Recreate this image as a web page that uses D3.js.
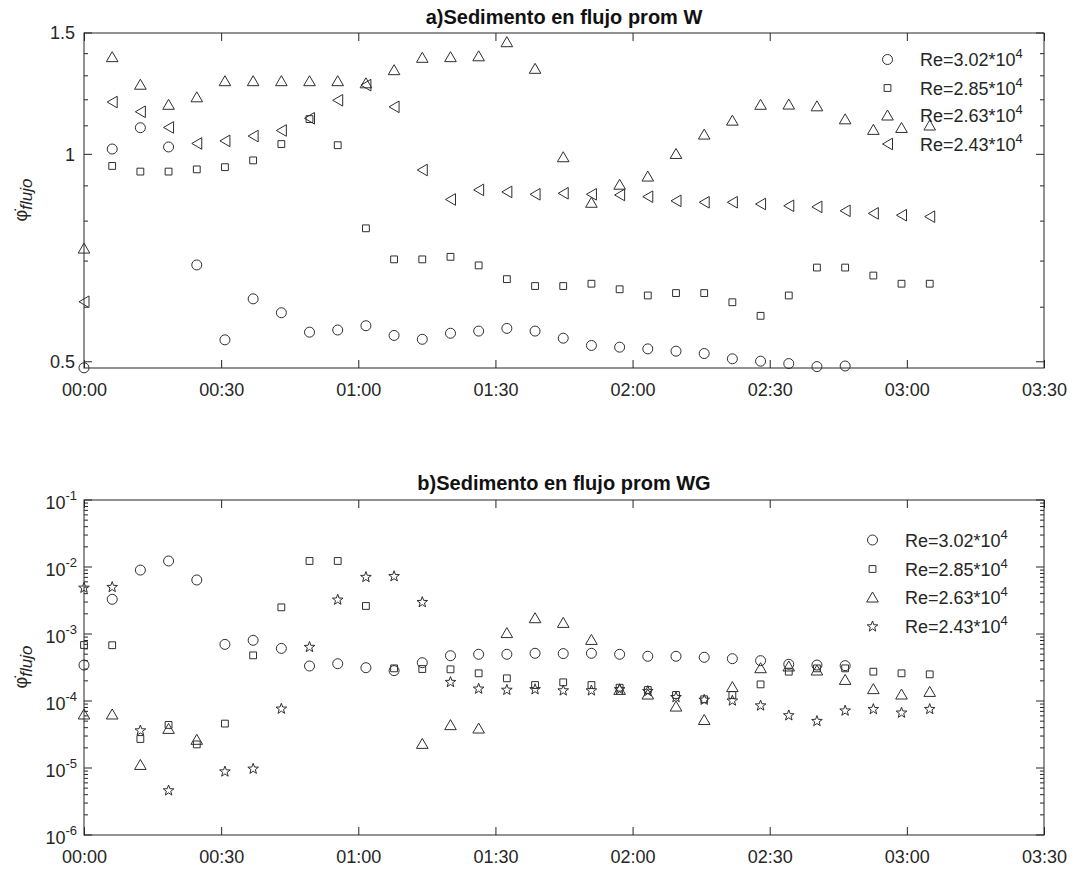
<!DOCTYPE html>
<html>
<head>
<meta charset="utf-8">
<script src="https://cdn.jsdelivr.net/npm/d3@7"></script>
<style>
  html, body { margin: 0; padding: 0; background: #fff; }
  svg { display: block; font-family: "Liberation Sans", Arial, Helvetica, sans-serif; }
</style>
</head>
<body>
<script>
// Sample times (minutes since start)
const sampleMin = [0, 6.17, 12.33, 18.5, 24.67, 30.83, 37, 43.17, 49.33, 55.5, 61.67, 67.83,
  74, 80.17, 86.33, 92.5, 98.67, 104.83, 111, 117.17, 123.33, 129.5, 135.67, 141.83,
  148, 154.17, 160.33, 166.5, 172.67, 178.83, 185];

// Time axis ticks
const xTickMin = [0, 30, 60, 90, 120, 150, 180, 210];
const xTickLabels = ["00:00", "00:30", "01:00", "01:30", "02:00", "02:30", "03:00", "03:30"];

// Series names
const seriesNamesW = ["3.02", "2.85", "2.63", "2.43"];
const seriesNamesWG = ["3.02", "2.85", "2.63", "2.43"];

// Panel a) - average flow sediment, W
const w302 = [0.49, 1.018, 1.093, 1.025, 0.691, 0.538, 0.617, 0.589, 0.552, 0.556, 0.564, 0.546,
  0.539, 0.550, 0.554, 0.559, 0.554, 0.541, 0.528, 0.525, 0.522, 0.518, 0.514, 0.505,
  0.501, 0.497, 0.492, 0.493, null, null, null];
const w285 = [null, 0.962, 0.944, 0.944, 0.951, 0.958, 0.980, 1.035, 1.125, 1.031, 0.781, 0.704,
  0.704, 0.710, 0.690, 0.659, 0.644, 0.644, 0.649, 0.637, 0.624, 0.629, 0.629, 0.610,
  0.583, 0.624, 0.685, 0.685, 0.667, 0.649, 0.649];
const w263 = [0.731, 1.386, 1.264, 1.182, 1.212, 1.279, 1.279, 1.279, 1.279, 1.279, 1.27, 1.327,
  1.383, 1.386, 1.390, 1.457, 1.333, 0.992, 0.852, 0.905, 0.930, 1.003, 1.070, 1.121,
  1.182, 1.183, 1.176, 1.126, 1.087, 1.094, 1.103];
const w243 = [0.611, 1.191, 1.153, 1.094, 1.037, 1.046, 1.063, 1.083, 1.128, 1.198, 1.26, 1.172,
  0.949, 0.860, 0.888, 0.882, 0.875, 0.878, 0.875, 0.873, 0.868, 0.856, 0.852, 0.852,
  0.847, 0.842, 0.839, 0.828, 0.821, 0.816, 0.812];

// Panel b) - average flow sediment, WG
const wg302 = [3.44e-4, 3.30e-3, 9.0e-3, 1.23e-2, 6.4e-3, 7.0e-4, 8.05e-4, 6.1e-4, 3.33e-4, 3.6e-4,
  3.14e-4, 2.84e-4, 3.73e-4, 4.74e-4, 4.98e-4, 4.98e-4, 5.15e-4, 5.1e-4, 5.15e-4, 4.98e-4,
  4.65e-4, 4.65e-4, 4.49e-4, 4.28e-4, 4.0e-4, 3.53e-4, 3.44e-4, 3.37e-4, null, null, null];
const wg285 = [6.85e-4, 6.8e-4, 2.71e-5, 4.39e-5, 2.25e-5, 4.6e-5, 4.8e-4, 2.5e-3, 1.23e-2, 1.23e-2,
  2.62e-3, 3.07e-4, 3.0e-4, 2.97e-4, 2.59e-4, 2.18e-4, 1.73e-4, 1.9e-4, 1.73e-4, 1.58e-4,
  1.46e-4, 1.23e-4, 1.06e-4, 1.23e-4, 1.77e-4, 2.74e-4, 3.07e-4, 3.07e-4, 2.74e-4, 2.59e-4, 2.5e-4];
const wg263 = [6.4e-5, 6.4e-5, 1.13e-5, 3.9e-5, 2.68e-5, null, null, null, null, null,
  null, null, 2.33e-5, 4.44e-5, 3.95e-5, 1.05e-3, 1.75e-3, 1.49e-3, 8.3e-4, 1.49e-4,
  1.27e-4, 8.4e-5, 5.3e-5, 1.64e-4, 3.14e-4, 3.33e-4, 2.9e-4, 2.1e-4, 1.53e-4, 1.27e-4, 1.39e-4];
const wg243 = [4.97e-3, 5.1e-3, 3.69e-5, 4.7e-6, null, 9.0e-6, 9.9e-6, 7.8e-5, 6.5e-4, 3.3e-3,
  7.2e-3, 7.4e-3, 3.04e-3, 1.95e-4, 1.55e-4, 1.49e-4, 1.52e-4, 1.46e-4, 1.46e-4, 1.52e-4,
  1.43e-4, 1.16e-4, 1.06e-4, 1.03e-4, 8.7e-5, 6.2e-5, 5.1e-5, 7.3e-5, 7.7e-5, 6.8e-5, 7.7e-5];

// y ticks
const yTicksW = [0.5, 1, 1.5];
const yTicksWLabels = ["0.5", "1", "1.5"];
const yMinorW = [0.6, 0.7, 0.8, 0.9, 1.1, 1.2, 1.3, 1.4];
const yExpWG = [-6, -5, -4, -3, -2, -1];

const ink = "#262626";
const markInk = "#2e2e2e";
const W = 1075, H = 871;

const svg = d3.select("body").append("svg").attr("width", W).attr("height", H);

// Marker outlines centred on (0,0)
function markerPath(kind) {
  const p = d3.path();
  if (kind === "circle") {
    p.arc(0, 0, 5, 0, 2 * Math.PI); p.closePath();
  } else if (kind === "square") {
    p.rect(-3.4, -3.4, 6.8, 6.8);
  } else if (kind === "up") {
    p.moveTo(0, -5); p.lineTo(5.8, 5); p.lineTo(-5.8, 5); p.closePath();
  } else if (kind === "left") {
    p.moveTo(-5, 0); p.lineTo(5, -5.8); p.lineTo(5, 5.8); p.closePath();
  } else if (kind === "star") {
    const R = 5.6, r = 2.3;
    for (let k = 0; k < 10; k++) {
      const a = -Math.PI / 2 + k * Math.PI / 5;
      const rr = k % 2 === 0 ? R : r;
      const px = rr * Math.cos(a), py = rr * Math.sin(a) + 0.6;
      if (k === 0) p.moveTo(px, py); else p.lineTo(px, py);
    }
    p.closePath();
  }
  return p.toString();
}

const x = d3.scaleLinear().domain([0, 210]).range([84, 1044]);

function drawFrame(g, y, top, bottom) {
  const left = x.range()[0], right = x.range()[1];
  // x axis ticks (bottom labelled, top unlabeled)
  const xb = g.append("g").attr("transform", `translate(0,${bottom})`)
    .call(d3.axisBottom(x).tickValues(xTickMin).tickFormat((d, i) => xTickLabels[i])
      .tickSize(-8).tickSizeOuter(0).tickPadding(15));
  const xt = g.append("g").attr("transform", `translate(0,${top})`)
    .call(d3.axisTop(x).tickValues(xTickMin).tickFormat("").tickSize(-8).tickSizeOuter(0));
  [xb, xt].forEach(a => {
    a.select(".domain").remove();
    a.selectAll("line").attr("stroke", ink);
    a.selectAll("text").attr("fill", ink).attr("font-size", 18)
      .attr("font-family", "Liberation Sans, Arial, sans-serif");
  });
  // bounding box
  g.append("rect").attr("x", left).attr("y", top)
    .attr("width", right - left).attr("height", bottom - top)
    .attr("fill", "none").attr("stroke", ink).attr("stroke-width", 1);
}

function yTicksDraw(g, y, vals, len) {
  const left = x.range()[0], right = x.range()[1];
  g.selectAll(null).data(vals).enter().append("line")
    .attr("x1", left).attr("x2", left + len)
    .attr("y1", d => y(d)).attr("y2", d => y(d)).attr("stroke", ink);
  g.selectAll(null).data(vals).enter().append("line")
    .attr("x1", right).attr("x2", right - len)
    .attr("y1", d => y(d)).attr("y2", d => y(d)).attr("stroke", ink);
}

function drawSeries(g, y, values, kind) {
  const pts = values.map((v, i) => ({ t: sampleMin[i], v })).filter(d => d.v != null);
  g.selectAll(null).data(pts).enter().append("path")
    .attr("d", markerPath(kind))
    .attr("transform", d => `translate(${x(d.t)},${y(d.v)})`)
    .attr("fill", "none").attr("stroke", markInk).attr("stroke-width", 1);
}

function drawLegend(g, names, kinds, mx, tx, rows) {
  names.forEach((n, i) => {
    g.append("path").attr("d", markerPath(kinds[i]))
      .attr("transform", `translate(${mx},${rows[i]})`)
      .attr("fill", "none").attr("stroke", markInk).attr("stroke-width", 1);
    const t = g.append("text").attr("x", tx).attr("y", rows[i] + 6.5)
      .attr("fill", ink).attr("font-size", 18);
    t.append("tspan").text(`Re=${n}*10`);
    t.append("tspan").attr("font-size", 13).attr("dy", -8).text("4");
  });
}

function drawYLabel(g, cy) {
  const t = g.append("text").attr("transform", `translate(27,${cy}) rotate(-90)`)
    .attr("text-anchor", "middle").attr("fill", ink).attr("font-size", 18);
  t.append("tspan").text("\u03C6\u0307");
  t.append("tspan").attr("font-style", "italic").attr("font-size", 17).attr("dy", 5).text("flujo");
}

function drawTitle(g, text, yb) {
  g.append("text").attr("x", 564).attr("y", yb).attr("text-anchor", "middle")
    .attr("font-weight", "bold").attr("font-size", 20).attr("fill", "#111").text(text);
}

// ---- Panel a ----
const gA = svg.append("g");
const yA = d3.scaleLog().domain([0.4897, 1.5]).range([368, 33]);
drawFrame(gA, yA, 33, 368);
yTicksDraw(gA, yA, yTicksW, 8);
yTicksDraw(gA, yA, yMinorW, 4);
gA.selectAll(null).data(yTicksW).enter().append("text")
  .attr("x", 75).attr("y", d => yA(d)).attr("dy", "0.35em").attr("text-anchor", "end")
  .attr("fill", ink).attr("font-size", 18).text((d, i) => yTicksWLabels[i]);
drawSeries(gA, yA, w302, "circle");
drawSeries(gA, yA, w285, "square");
drawSeries(gA, yA, w263, "up");
drawSeries(gA, yA, w243, "left");
drawLegend(gA, seriesNamesW, ["circle", "square", "up", "left"], 887.5, 920, [59.5, 88, 115, 144]);
drawYLabel(gA, 200);
drawTitle(gA, "a)Sedimento en flujo prom W", 24);

// ---- Panel b ----
const gB = svg.append("g");
const yB = d3.scaleLog().domain([1e-6, 1e-1]).range([835, 500]);
drawFrame(gB, yB, 500, 835);
const majB = yExpWG.map(e => Math.pow(10, e));
const minB = [];
yExpWG.slice(0, -1).forEach(e => { for (let m = 2; m <= 9; m++) minB.push(m * Math.pow(10, e)); });
yTicksDraw(gB, yB, majB, 8);
yTicksDraw(gB, yB, minB, 4);
yExpWG.forEach(e => {
  const t = gB.append("text").attr("x", 77).attr("y", yB(Math.pow(10, e)) + 9)
    .attr("text-anchor", "end").attr("fill", ink).attr("font-size", 18);
  t.append("tspan").text("10");
  t.append("tspan").attr("font-size", 13).attr("dy", -9).text(String(e));
});
drawSeries(gB, yB, wg302, "circle");
drawSeries(gB, yB, wg285, "square");
drawSeries(gB, yB, wg263, "up");
drawSeries(gB, yB, wg243, "star");
drawLegend(gB, seriesNamesWG, ["circle", "square", "up", "star"], 872.5, 905, [540, 569, 597, 626]);
drawYLabel(gB, 667);
drawTitle(gB, "b)Sedimento en flujo prom WG", 490);
</script>
</body>
</html>
